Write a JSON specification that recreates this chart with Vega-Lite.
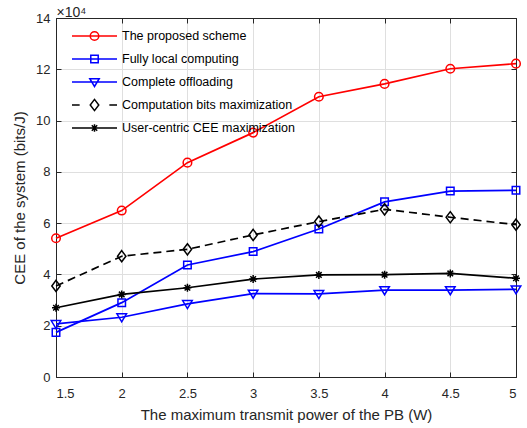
{
  "$schema": "https://vega.github.io/schema/vega-lite/v6.json",
  "width": 460,
  "height": 359,
  "autosize": "none",
  "padding": {"left": 56, "top": 18, "right": 11, "bottom": 51},
  "background": "white",
  "config": {
    "font": "Liberation Sans",
    "view": {"stroke": "#262626", "strokeWidth": 1},
    "axis": {
      "labelFont": "Liberation Sans", "titleFont": "Liberation Sans",
      "labelColor": "#262626", "titleColor": "#262626",
      "labelFontSize": 13, "titleFontSize": 15, "titleFontWeight": "normal",
      "domainColor": "#262626", "tickColor": "#262626",
      "gridColor": "#dfdfdf", "gridWidth": 1
    }
  },
  "data": {"values": [
    {"p": 1.5, "series": "The proposed scheme", "cee": 54100},
    {"p": 2, "series": "The proposed scheme", "cee": 64900},
    {"p": 2.5, "series": "The proposed scheme", "cee": 83600},
    {"p": 3, "series": "The proposed scheme", "cee": 95300},
    {"p": 3.5, "series": "The proposed scheme", "cee": 109300},
    {"p": 4, "series": "The proposed scheme", "cee": 114300},
    {"p": 4.5, "series": "The proposed scheme", "cee": 120200},
    {"p": 5, "series": "The proposed scheme", "cee": 122200},
    {"p": 1.5, "series": "Fully local computing", "cee": 17400},
    {"p": 2, "series": "Fully local computing", "cee": 29000},
    {"p": 2.5, "series": "Fully local computing", "cee": 43700},
    {"p": 3, "series": "Fully local computing", "cee": 48900},
    {"p": 3.5, "series": "Fully local computing", "cee": 57700},
    {"p": 4, "series": "Fully local computing", "cee": 68300},
    {"p": 4.5, "series": "Fully local computing", "cee": 72500},
    {"p": 5, "series": "Fully local computing", "cee": 72800},
    {"p": 1.5, "series": "Complete offloading", "cee": 20700},
    {"p": 2, "series": "Complete offloading", "cee": 23300},
    {"p": 2.5, "series": "Complete offloading", "cee": 28500},
    {"p": 3, "series": "Complete offloading", "cee": 32500},
    {"p": 3.5, "series": "Complete offloading", "cee": 32400},
    {"p": 4, "series": "Complete offloading", "cee": 33900},
    {"p": 4.5, "series": "Complete offloading", "cee": 33900},
    {"p": 5, "series": "Complete offloading", "cee": 34200},
    {"p": 1.5, "series": "Computation bits maximization", "cee": 35500},
    {"p": 2, "series": "Computation bits maximization", "cee": 47100},
    {"p": 2.5, "series": "Computation bits maximization", "cee": 49800},
    {"p": 3, "series": "Computation bits maximization", "cee": 55400},
    {"p": 3.5, "series": "Computation bits maximization", "cee": 60600},
    {"p": 4, "series": "Computation bits maximization", "cee": 65400},
    {"p": 4.5, "series": "Computation bits maximization", "cee": 62300},
    {"p": 5, "series": "Computation bits maximization", "cee": 59400},
    {"p": 1.5, "series": "User-centric CEE maximization", "cee": 27000},
    {"p": 2, "series": "User-centric CEE maximization", "cee": 32200},
    {"p": 2.5, "series": "User-centric CEE maximization", "cee": 34800},
    {"p": 3, "series": "User-centric CEE maximization", "cee": 38200},
    {"p": 3.5, "series": "User-centric CEE maximization", "cee": 39800},
    {"p": 4, "series": "User-centric CEE maximization", "cee": 39900},
    {"p": 4.5, "series": "User-centric CEE maximization", "cee": 40400},
    {"p": 5, "series": "User-centric CEE maximization", "cee": 38500}
  ]},
  "encoding": {
    "x": {"field": "p", "type": "quantitative", "scale": {"domain": [1.5, 5], "nice": false, "zero": false}, "axis": null},
    "y": {"field": "cee", "type": "quantitative", "scale": {"domain": [0, 140000], "nice": false}, "axis": null},
    "color": {"field": "series", "type": "nominal",
      "scale": {"domain": ["The proposed scheme", "Fully local computing", "Complete offloading", "Computation bits maximization", "User-centric CEE maximization"], "range": ["#ff0000", "#0000ff", "#0000ff", "#000000", "#000000"]},
      "legend": {
        "title": null, "orient": "none", "legendX": 15, "legendY": 11, "padding": 0,
        "symbolSize": 2025, "symbolStrokeWidth": 1.5, "symbolFillColor": "transparent",
        "labelFontSize": 12.5, "labelFont": "Liberation Sans", "labelColor": "#000000", "labelLimit": 400,
        "clipHeight": 14, "rowPadding": 9, "labelOffset": 4, "direction": "vertical", "columns": 1
      }}
  },
  "layer": [
    {
      "transform": [{"filter": "datum.series !== 'Computation bits maximization'"}],
      "mark": {"type": "line", "strokeWidth": 1.7},
      "encoding": {
        "x": {"field": "p", "type": "quantitative",
          "axis": {"orient": "bottom", "values": [1.5, 2, 2.5, 3, 3.5, 4, 4.5, 5], "format": "~g", "title": "The maximum transmit power of the PB (W)", "grid": true, "tickSize": -5, "labelPadding": 15, "titlePadding": 7, "domain": true}},
        "y": {"field": "cee", "type": "quantitative",
          "axis": {"orient": "left", "values": [0, 20000, 40000, 60000, 80000, 100000, 120000, 140000], "labelExpr": "datum.value / 10000", "title": "CEE of the system (bits/J)", "grid": true, "tickSize": -5, "labelPadding": 11, "titlePadding": 8, "domain": true}}
      }
    },
    {
      "transform": [{"filter": "datum.series === 'Computation bits maximization'"}],
      "mark": {"type": "line", "strokeWidth": 1.7, "strokeDash": [8, 5]}
    },
    {
      "transform": [{"filter": "datum.series === 'The proposed scheme'"}],
      "mark": {"type": "point", "filled": false, "strokeWidth": 1.5, "size": 64, "opacity": 1, "shape": "M1.07,0A1.07,1.07 0 1,1 -1.07,0A1.07,1.07 0 1,1 1.07,0Z"}
    },
    {
      "transform": [{"filter": "datum.series === 'Fully local computing'"}],
      "mark": {"type": "point", "filled": false, "strokeWidth": 1.5, "size": 64, "opacity": 1, "shape": "M-0.94,-0.94H0.94V0.94H-0.94Z"}
    },
    {
      "transform": [{"filter": "datum.series === 'Complete offloading'"}],
      "mark": {"type": "point", "filled": false, "strokeWidth": 1.5, "size": 64, "opacity": 1, "shape": "M-1.2,-0.85H1.2L0,1.15Z"}
    },
    {
      "transform": [{"filter": "datum.series === 'Computation bits maximization'"}],
      "mark": {"type": "point", "filled": false, "strokeWidth": 1.5, "size": 64, "opacity": 1, "shape": "M0,-1.4L1.05,0L0,1.4L-1.05,0Z"}
    },
    {
      "transform": [{"filter": "datum.series === 'User-centric CEE maximization'"}],
      "mark": {"type": "point", "filled": false, "strokeWidth": 1.5, "size": 64, "opacity": 1, "shape": "M0,-1V1M-1,0H1M-0.7,-0.7L0.7,0.7M-0.7,0.7L0.7,-0.7"}
    },
    {
      "mark": {"type": "point", "filled": false, "strokeWidth": 1.5, "size": 0},
      "encoding": {
        "x": {"field": "p", "type": "quantitative", "axis": {"orient": "top", "labels": false, "title": "×10⁴", "titleAnchor": "start", "titleAlign": "left", "titleBaseline": "alphabetic", "titleX": 0, "titleY": -1.5, "titleAngle": 0, "titleFontSize": 14, "titleFontWeight": "normal", "grid": false, "tickSize": -5, "values": [1.5, 2, 2.5, 3, 3.5, 4, 4.5, 5], "domain": true}},
        "y": {"field": "cee", "type": "quantitative", "axis": {"orient": "right", "labels": false, "title": null, "grid": false, "tickSize": -5, "values": [0, 20000, 40000, 60000, 80000, 100000, 120000, 140000], "domain": true}},
        "shape": {"field": "series", "type": "nominal",
          "scale": {"domain": ["The proposed scheme", "Fully local computing", "Complete offloading", "Computation bits maximization", "User-centric CEE maximization"], "range": ["M-1,0H1M0.19,0A0.19,0.19 0 1,1 -0.19,0A0.19,0.19 0 1,1 0.19,0Z", "M-1,0H1M-0.165,-0.165H0.165V0.165H-0.165Z", "M-1,0H1M-0.21,-0.15H0.21L0,0.2Z", "M-1,0H-0.66M0.66,0H1M0,-0.25L0.19,0L0,0.25L-0.19,0Z", "M-1,0H1M0,-0.17V0.17M-0.12,-0.12L0.12,0.12M-0.12,0.12L0.12,-0.12"]},
          "legend": {
            "title": null, "orient": "none", "legendX": 15, "legendY": 11, "padding": 0,
            "symbolSize": 2025, "symbolStrokeWidth": 1.5, "symbolFillColor": "transparent",
            "labelFontSize": 12.5, "labelFont": "Liberation Sans", "labelColor": "#000000", "labelLimit": 400,
            "clipHeight": 14, "rowPadding": 9, "labelOffset": 4, "direction": "vertical", "columns": 1
          }}
      }
    }
  ],
  "resolve": {"axis": {"x": "independent", "y": "independent"}}
}
